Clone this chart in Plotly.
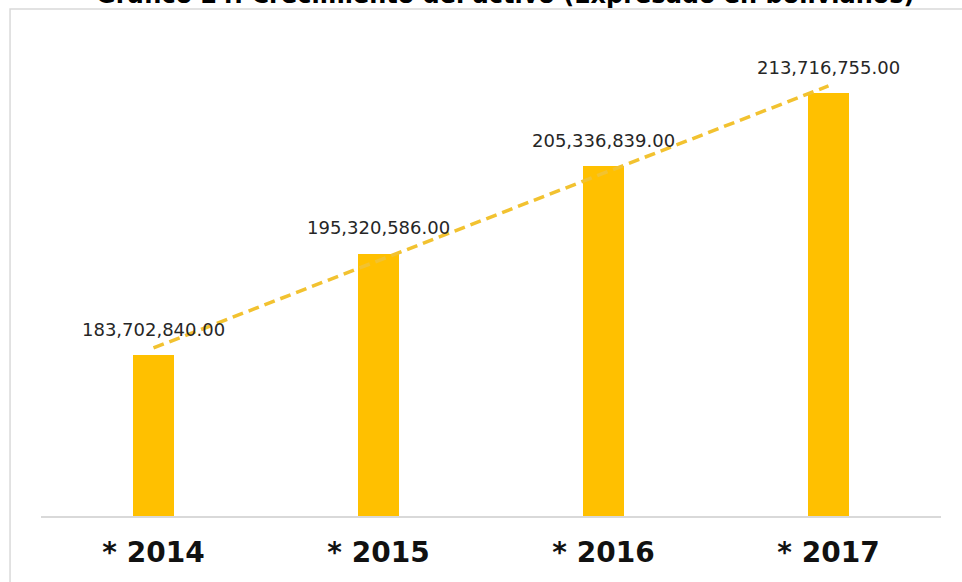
import numpy as np
import plotly.graph_objects as go

# Data
categories = ["* 2014", "* 2015", "* 2016", "* 2017"]
values = [183702840.00, 195320586.00, 205336839.00, 213716755.00]
labels = ["183,702,840.00", "195,320,586.00", "205,336,839.00", "213,716,755.00"]
title_text = "Gráfico 24. Crecimiento del activo (Expresado en bolivianos)"

# Linear trend computed from the data
xs = np.arange(len(values))
slope, intercept = np.polyfit(xs, values, 1)
trend = list(slope * xs + intercept)

fig = go.Figure()
fig.add_trace(go.Bar(
    x=categories, y=values, width=0.185,
    marker=dict(color="#FFC000", line=dict(width=0)),
    hoverinfo="skip", showlegend=False,
))
fig.add_trace(go.Scatter(
    x=categories, y=trend, mode="lines",
    line=dict(color="#F2C230", width=3.5, dash="11px,6px"),
    hoverinfo="skip", showlegend=False,
))

for c, v, t in zip(categories, values, labels):
    fig.add_annotation(x=c, y=v, text=t, showarrow=False, yshift=26,
                       yanchor="middle", xanchor="center",
                       font=dict(family="DejaVu Sans", size=18, color="#262626"))

fig.add_annotation(x=0.516, y=1.0935, xref="paper", yref="paper", text="<b>" + title_text + "</b>",
                   showarrow=False, xanchor="center", yanchor="middle",
                   font=dict(family="DejaVu Sans", size=24, color="#000000"))

# Chart frame
fig.add_shape(type="rect", xref="paper", yref="paper",
              x0=-0.0344, x1=1.2, y0=-0.3, y1=1.0651,
              line=dict(color="#D9D9D9", width=1.5), fillcolor="rgba(0,0,0,0)", layer="below")

fig.update_layout(
    width=962, height=582,
    margin=dict(l=41, r=21, t=40, b=66),
    paper_bgcolor="white", plot_bgcolor="white",
    bargap=0,
)
fig.update_xaxes(
    showline=True, linecolor="#D9D9D9", linewidth=1.5,
    showgrid=False, ticks="",
    tickfont=dict(family="DejaVu Sans", size=28, color="#111111"),
    ticklabelstandoff=11,
)
fig.update_yaxes(
    range=[165.26e6, 219.79e6], showgrid=False, showticklabels=False,
    zeroline=False, showline=False, ticks="",
)
fig.update_xaxes(tickvals=categories, ticktext=["<b>" + c + "</b>" for c in categories])

fig.write_html("out.html")
